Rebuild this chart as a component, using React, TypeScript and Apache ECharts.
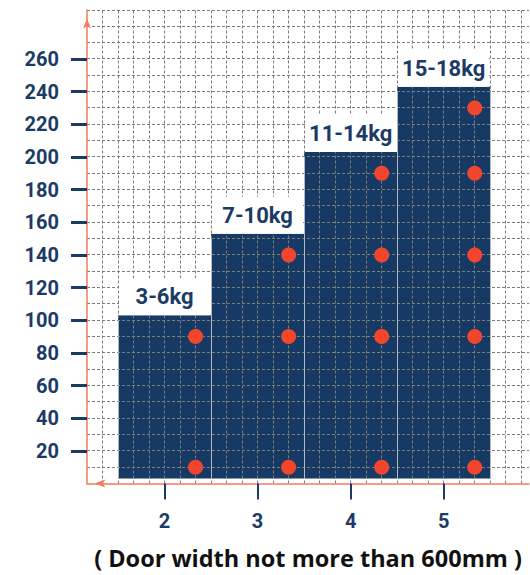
import React, { useEffect, useRef } from 'react';
import * as echarts from 'echarts';

// ---- data ----
const doorWidths = [2, 3, 4, 5];
const weightRanges = ['3-6kg', '7-10kg', '11-14kg', '15-18kg'];
const barBase = 3;
const barTops = [103, 153, 203, 243];
const dotValues = [
  [10, 90],
  [10, 90, 140],
  [10, 90, 140, 190],
  [10, 90, 140, 190, 230],
];
const yTickValues = [20, 40, 60, 80, 100, 120, 140, 160, 180, 200, 220, 240, 260];
const xAxisTitle = '( Door width not more than 600mm )';

// axis scale: each door-width unit split into 6 grid cells
const SUB = 6;
const X_MIN = 7;
const X_MAX = 35.5;
const Y_MIN = 0;
const Y_MAX = 290;
const Y_STEP = 10;
const HALF_BAR = 3;
const DOT_SHIFT = 2;

const NAVY = '#163a63';
const TEXT_NAVY = '#1b3b66';
const ORANGE = '#f27b5d';
const RED = '#f2452d';
const GRID = '#7c7c7c';
const EDGE = '#b4b8bf';

const crisp = (p: number) => Math.round(p - 0.5) + 0.5;

export default function App() {
  const ref = useRef<HTMLDivElement>(null);

  useEffect(() => {
    if (!ref.current) return;
    const chart = echarts.init(ref.current, undefined, { renderer: 'svg' });

    const barData = doorWidths.map((d, i) => [d * SUB, barTops[i]]);
    const dotData: number[][] = [];
    doorWidths.forEach((d, i) => {
      dotValues[i].forEach((v) => dotData.push([d * SUB + DOT_SHIFT, v]));
    });
    const xTickValues = doorWidths.map((d) => d * SUB);

    // grid-line positions along each axis (axis steps, not data)
    const xGridValues: number[] = [];
    for (let v = X_MIN + 1; v < X_MAX; v += 1) xGridValues.push(v);
    const yGridValues: number[] = [];
    for (let v = Y_MIN + Y_STEP; v <= Y_MAX; v += Y_STEP) yGridValues.push(v);

    const gridLineStyle = { stroke: GRID, lineWidth: 1, lineDash: [3, 2] };

    const option: any = {
      animation: false,
      grid: { left: 87, right: 1, top: 10, bottom: 91.5, containLabel: false },
      xAxis: {
        type: 'value',
        min: X_MIN,
        max: X_MAX,
        interval: 1,
        z: 20,
        axisLine: {
          show: true,
          onZero: false,
          lineStyle: { color: ORANGE, width: 1.5 },
          symbol: ['arrow', 'none'],
          symbolSize: [6, 11],
          symbolOffset: [7.5, 0],
        },
        axisTick: {
          show: true,
          customValues: xTickValues,
          length: 16,
          lineStyle: { color: TEXT_NAVY, width: 2 },
        },
        axisLabel: {
          customValues: xTickValues,
          formatter: (v: number) => String(v / SUB),
          margin: 27,
          color: TEXT_NAVY,
          fontSize: 20,
          fontWeight: 'bold',
          fontFamily: 'Roboto',
        },
        splitLine: { show: false },
        name: xAxisTitle,
        nameLocation: 'middle',
        nameGap: 62,
        nameTextStyle: {
          color: '#111111',
          fontSize: 23.5,
          fontWeight: 'bold',
          fontFamily: 'Open Sans',
        },
      },
      yAxis: {
        type: 'value',
        min: Y_MIN,
        max: Y_MAX,
        interval: Y_STEP,
        z: 20,
        axisLine: {
          show: true,
          lineStyle: { color: ORANGE, width: 1.5 },
          symbol: ['none', 'arrow'],
          symbolSize: [6, 10],
          symbolOffset: [0, -8.5],
        },
        axisTick: {
          show: true,
          customValues: yTickValues,
          length: 16,
          lineStyle: { color: TEXT_NAVY, width: 3 },
        },
        axisLabel: {
          customValues: yTickValues,
          margin: 28,
          color: TEXT_NAVY,
          fontSize: 20,
          fontWeight: 'bold',
          fontFamily: 'Roboto',
        },
        splitLine: { show: false },
      },
      series: [
        {
          // bars with the dashed grid drawn over them (one custom series so the
          // stacking order is the drawing order)
          type: 'custom',
          z: 2,
          data: barData,
          encode: { x: 0, y: 1 },
          renderItem: (params: any, api: any) => {
            const x = api.value(0);
            const top = api.value(1);
            const p0 = api.coord([x - HALF_BAR, barBase]);
            const p1 = api.coord([x + HALF_BAR, top]);
            const children: any[] = [
              {
                type: 'rect',
                z2: 0,
                shape: { x: p0[0], y: p1[1], width: p1[0] - p0[0], height: p0[1] - p1[1] },
                style: { fill: NAVY },
              },
              {
                type: 'line',
                z2: 11,
                shape: { x1: crisp(p0[0]), y1: p1[1] + 5, x2: crisp(p0[0]), y2: p0[1] },
                style: { stroke: EDGE, lineWidth: 1 },
              },
              {
                type: 'line',
                z2: 11,
                shape: { x1: crisp(p1[0]), y1: p1[1] + 5, x2: crisp(p1[0]), y2: p0[1] },
                style: { stroke: EDGE, lineWidth: 1 },
              },
            ];
            if (params.dataIndex === 0) {
              xGridValues.forEach((v) => {
                const a = api.coord([v, Y_MIN]);
                const b = api.coord([v, Y_MAX]);
                const cx = crisp(a[0]);
                children.push({
                  type: 'line',
                  z2: 10,
                  silent: true,
                  shape: { x1: cx, y1: a[1], x2: cx, y2: b[1] },
                  style: gridLineStyle,
                });
              });
              yGridValues.forEach((v) => {
                const a = api.coord([X_MIN, v]);
                const b = api.coord([X_MAX, v]);
                const cy = crisp(a[1]);
                children.push({
                  type: 'line',
                  z2: 10,
                  silent: true,
                  shape: { x1: a[0], y1: cy, x2: b[0], y2: cy },
                  style: gridLineStyle,
                });
              });
            }
            return { type: 'group', children };
          },
        },
        {
          type: 'custom',
          z: 4,
          data: barData,
          encode: { x: 0, y: 1 },
          renderItem: (params: any, api: any) => {
            const x = api.value(0);
            const top = api.value(1);
            const pl = api.coord([x - HALF_BAR, top]);
            const pr = api.coord([x + HALF_BAR, top]);
            const boxH = 37;
            return {
              type: 'group',
              children: [
                {
                  type: 'rect',
                  shape: { x: pl[0] + 1, y: pl[1] - boxH, width: pr[0] - pl[0] - 2, height: boxH },
                  style: { fill: '#ffffff' },
                },
                {
                  type: 'text',
                  x: (pl[0] + pr[0]) / 2,
                  y: pl[1] - boxH / 2,
                  style: {
                    text: weightRanges[params.dataIndex],
                    fill: TEXT_NAVY,
                    fontSize: 22,
                    fontWeight: 'bold',
                    fontFamily: 'Roboto',
                    align: 'center',
                    verticalAlign: 'middle',
                  },
                },
              ],
            };
          },
        },
        {
          type: 'scatter',
          z: 5,
          data: dotData,
          symbol: 'circle',
          symbolSize: 15,
          itemStyle: { color: RED, opacity: 1 },
        },
      ],
    };

    chart.setOption(option);
    return () => chart.dispose();
  }, []);

  return (
    <div
      ref={ref}
      style={{ position: 'fixed', left: 0, top: 0, width: 530, height: 575, background: '#ffffff' }}
    />
  );
}
